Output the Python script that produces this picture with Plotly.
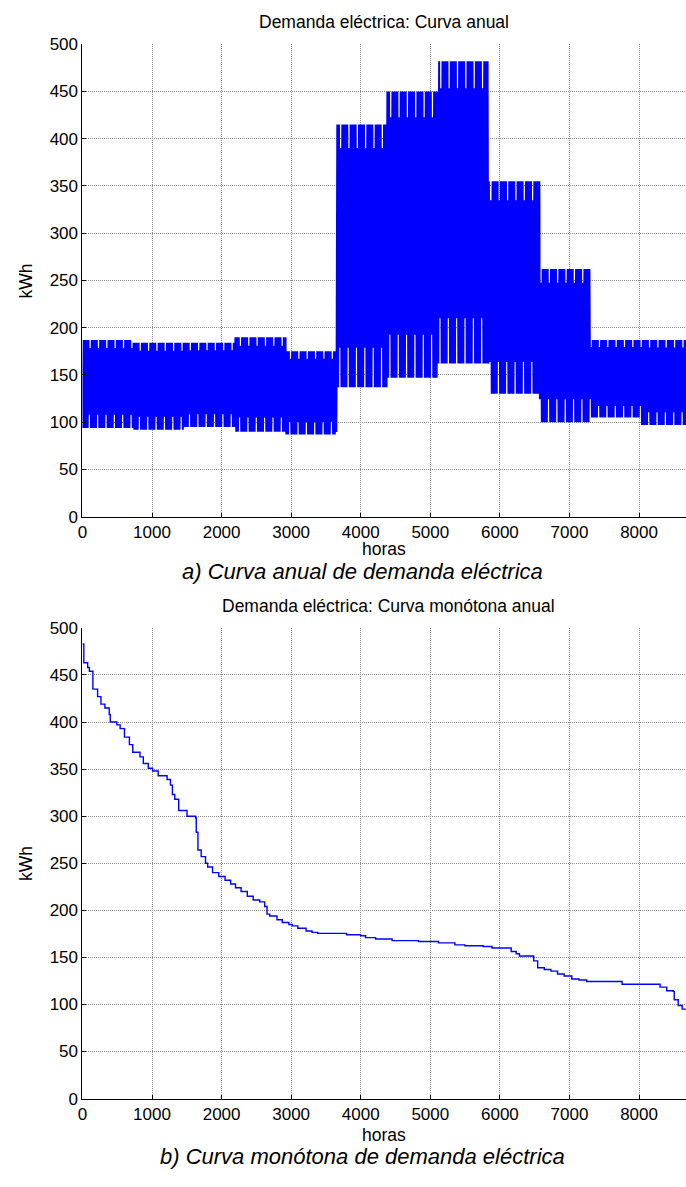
import numpy as np
import plotly.graph_objects as go

# ---------------- data ----------------
# Top chart: hourly annual demand built from monthly min / max levels
month_min = [94, 92, 95, 90, 87, 137, 147, 162, 130, 100, 105, 97]
month_max = [187, 184, 184, 190, 175, 415, 450, 482, 355, 262, 187, 187]
hours_per_month = 730
# typical daily shape (fraction of the monthly min..max span), hour 0..23
day_profile = [0.10, 0.03, 0.0, 0.0, 0.02, 0.08, 0.25, 0.55, 0.80, 0.95, 1.0, 1.0,
               0.95, 0.90, 0.95, 1.0, 0.97, 0.88, 0.75, 0.60, 0.45, 0.32, 0.22, 0.15]
# day pattern: 1 = full-range day, 0 = reduced-range day
day_pattern = [1, 1, 1, 1, 0]
reduced_low, reduced_high = 0.22, 0.91

# Bottom chart: annual load-duration (monotone) curve, (hour, kWh) step points
mono_hours = [0, 20, 75, 100, 150, 218, 266, 323, 385, 400, 495, 542, 604, 675, 723, 827,
              875, 946, 1008, 1089, 1217, 1265, 1293, 1327, 1384, 1503, 1626, 1636, 1660,
              1707, 1769, 1800, 1870, 1960, 2050, 2130, 2200, 2280, 2370, 2454, 2549, 2620,
              2653, 2692, 2796, 2872, 2967, 3015, 3096, 3214, 3300, 3381, 3795, 3999, 4070,
              4213, 4451, 4831, 5117, 5354, 5497, 5759, 5887, 6163, 6234, 6281, 6486, 6543,
              6638, 6733, 6829, 6923, 7033, 7137, 7247, 7756, 8302, 8398, 8492, 8506, 8563,
              8620, 8700, 8760]
mono_kwh = [483, 463, 458, 454, 435, 427, 419, 415, 408, 400, 397, 393, 384, 376, 368, 363,
            356, 351, 348, 343, 339, 333, 323, 318, 306, 300, 298, 283, 264,
            257, 250, 246, 240, 236, 232, 228, 224, 220, 215, 211, 209, 204,
            196, 194, 190, 187, 185, 183.5, 181, 178, 176.6, 175.5, 174, 173, 171,
            169.6, 167.8, 166.8, 165.4, 163.3, 162.3, 161.5, 159.9, 156.3, 153.9, 151.5, 146.3, 139,
            137.2, 135.4, 132.3, 130.2, 127, 126, 124.3, 121.5, 118.4, 114.5, 113.9, 105, 98.9,
            95, 93, 92]

x_ticks = [0, 1000, 2000, 3000, 4000, 5000, 6000, 7000, 8000]
y_ticks = [0, 50, 100, 150, 200, 250, 300, 350, 400, 450, 500]

# ---------------- build hourly series ----------------
hours = np.arange(8760)
demand = np.empty(8760)
for h in hours:
    m = min(h // hours_per_month, 11)
    d = h // 24
    f = day_profile[h % 24]
    if day_pattern[d % len(day_pattern)] == 0:
        f = reduced_low + (reduced_high - reduced_low) * f
    demand[h] = month_min[m] + (month_max[m] - month_min[m]) * f

# ---------------- figure ----------------
W, H = 686, 1187
FONT = "Liberation Sans"


def px(x):
    return x / W


def py(y):
    return 1 - y / H


fig = go.Figure()
fig.add_trace(go.Scatter(x=hours, y=demand, mode="lines",
                         line=dict(color="#0000ff", width=2),
                         xaxis="x", yaxis="y", showlegend=False, hoverinfo="skip"))
fig.add_trace(go.Scatter(x=mono_hours, y=mono_kwh, mode="lines", line_shape="hv",
                         line=dict(color="#0000ff", width=1.4),
                         xaxis="x2", yaxis="y2", showlegend=False))

xr = [0, 8675]
xdom = [px(78), 1.0]
axis_common = dict(showgrid=True, gridcolor="#8c8c8c", griddash="1px,1px", gridwidth=1,
                   zeroline=False, showline=True, linecolor="black", linewidth=1,
                   ticks="inside", ticklen=4, tickcolor="black",
                   tickfont=dict(family=FONT, size=17, color="black"))

fig.update_layout(
    width=W, height=H,
    margin=dict(l=0, r=0, t=0, b=0),
    paper_bgcolor="white", plot_bgcolor="white",
    font=dict(family=FONT),
    xaxis=dict(domain=xdom, range=xr, tickvals=x_ticks, anchor="y", **axis_common),
    yaxis=dict(domain=[py(516), py(35.7)], range=[0, 500], tickvals=y_ticks, anchor="x",
               **axis_common),
    xaxis2=dict(domain=xdom, range=xr, tickvals=x_ticks, anchor="y2", **axis_common),
    yaxis2=dict(domain=[py(1107.3), py(629)], range=[0, 500], tickvals=y_ticks,
                anchor="x2", **axis_common),
)

texts = [
    ("Demanda eléctrica: Curva anual", 382, 13, 17.5, 0),
    ("horas", 382, 549, 17.5, 0),
    ("kWh", 21, 276, 17.5, -90),
    ("<i>a) Curva anual de demanda eléctrica</i>", 360, 572, 22, 0),
    ("Demanda eléctrica: Curva monótona anual", 386, 607, 17.5, 0),
    ("horas", 382, 1144, 17.5, 0),
    ("kWh", 21, 868, 17.5, -90),
    ("<i>b) Curva monótona de demanda eléctrica</i>", 360, 1166, 22, 0),
]
for t, x, y, s, ang in texts:
    fig.add_annotation(text=t, x=px(x), y=py(y), xref="paper", yref="paper",
                       xanchor="center", yanchor="middle", showarrow=False,
                       textangle=ang, font=dict(family=FONT, size=s, color="black"))

fig.write_html("out.html")
